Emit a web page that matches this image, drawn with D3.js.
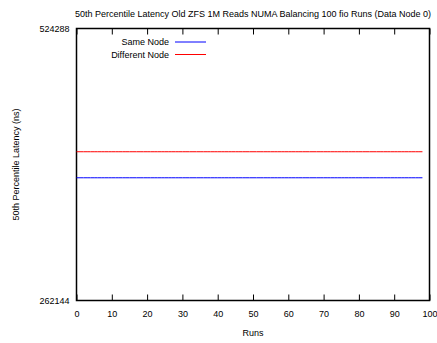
<!DOCTYPE html>
<html>
<head>
<meta charset="utf-8">
<script src="https://cdn.jsdelivr.net/npm/d3@7"></script>
<style>
  html, body { margin: 0; padding: 0; background: #fff; }
  svg { display: block; font-family: "Liberation Sans", Arial, Helvetica, sans-serif; }
</style>
</head>
<body>
<svg id="chart" width="437" height="343"></svg>
<script>
// Chart text
const title = "50th Percentile Latency Old ZFS 1M Reads NUMA Balancing 100 fio Runs (Data Node 0)";
const xLabel = "Runs";
const yLabel = "50th Percentile Latency (ns)";

// Axis domains and ticks
const xDomain = [0, 100];
const xTicks = [0, 10, 20, 30, 40, 50, 60, 70, 80, 90, 100];
const yDomain = [262144, 524288];
const yTicks = [262144, 524288];

// Run indices and per-run median latency (ns) for each series
const runs = [
  0, 1, 2, 3, 4, 5, 6, 7, 8, 9,
  10, 11, 12, 13, 14, 15, 16, 17, 18, 19,
  20, 21, 22, 23, 24, 25, 26, 27, 28, 29,
  30, 31, 32, 33, 34, 35, 36, 37, 38, 39,
  40, 41, 42, 43, 44, 45, 46, 47, 48, 49,
  50, 51, 52, 53, 54, 55, 56, 57, 58, 59,
  60, 61, 62, 63, 64, 65, 66, 67, 68, 69,
  70, 71, 72, 73, 74, 75, 76, 77, 78, 79,
  80, 81, 82, 83, 84, 85, 86, 87, 88, 89,
  90, 91, 92, 93, 94, 95, 96, 97, 98
];
const sameNode = [
  358400, 358400, 358400, 358400, 358400, 358400, 358400, 358400, 358400, 358400,
  358400, 358400, 358400, 358400, 358400, 358400, 358400, 358400, 358400, 358400,
  358400, 358400, 358400, 358400, 358400, 358400, 358400, 358400, 358400, 358400,
  358400, 358400, 358400, 358400, 358400, 358400, 358400, 358400, 358400, 358400,
  358400, 358400, 358400, 358400, 358400, 358400, 358400, 358400, 358400, 358400,
  358400, 358400, 358400, 358400, 358400, 358400, 358400, 358400, 358400, 358400,
  358400, 358400, 358400, 358400, 358400, 358400, 358400, 358400, 358400, 358400,
  358400, 358400, 358400, 358400, 358400, 358400, 358400, 358400, 358400, 358400,
  358400, 358400, 358400, 358400, 358400, 358400, 358400, 358400, 358400, 358400,
  358400, 358400, 358400, 358400, 358400, 358400, 358400, 358400, 358400
];
const differentNode = [
  382976, 382976, 382976, 382976, 382976, 382976, 382976, 382976, 382976, 382976,
  382976, 382976, 382976, 382976, 382976, 382976, 382976, 382976, 382976, 382976,
  382976, 382976, 382976, 382976, 382976, 382976, 382976, 382976, 382976, 382976,
  382976, 382976, 382976, 382976, 382976, 382976, 382976, 382976, 382976, 382976,
  382976, 382976, 382976, 382976, 382976, 382976, 382976, 382976, 382976, 382976,
  382976, 382976, 382976, 382976, 382976, 382976, 382976, 382976, 382976, 382976,
  382976, 382976, 382976, 382976, 382976, 382976, 382976, 382976, 382976, 382976,
  382976, 382976, 382976, 382976, 382976, 382976, 382976, 382976, 382976, 382976,
  382976, 382976, 382976, 382976, 382976, 382976, 382976, 382976, 382976, 382976,
  382976, 382976, 382976, 382976, 382976, 382976, 382976, 382976, 382976
];
const seriesNames = ["Same Node", "Different Node"];
const seriesColors = ["#0000ff", "#ff0000"];

const svg = d3.select("#chart");
const plotLeft = 76.5, plotRight = 429.5, plotTop = 28.5, plotBottom = 300.5;

const x = d3.scaleLinear().domain(xDomain).range([plotLeft, plotRight]);
const y = d3.scaleLog().base(2).domain(yDomain).range([plotBottom, plotTop]);

const fontSize = 9;
const tickLen = 6;

// Title
svg.append("text")
  .attr("x", (plotLeft + plotRight) / 2).attr("y", 17)
  .attr("text-anchor", "middle")
  .attr("font-size", fontSize)
  .text(title);

// Bottom axis (ticks pointing inward)
const xAxis = d3.axisBottom(x).tickValues(xTicks).tickSize(-tickLen).tickPadding(tickLen + 4).tickFormat(d3.format("d"));
const gx = svg.append("g").attr("transform", `translate(0,${plotBottom})`).call(xAxis);
gx.select(".domain").remove();
gx.selectAll("text").attr("font-size", fontSize).attr("font-family", null).attr("fill", "#000");
gx.selectAll("line").attr("stroke", "#000");

// Mirrored ticks on the top edge
const xTop = d3.axisTop(x).tickValues(xTicks).tickSize(-tickLen).tickFormat("");
const gxt = svg.append("g").attr("transform", `translate(0,${plotTop})`).call(xTop);
gxt.select(".domain").remove();
gxt.selectAll("line").attr("stroke", "#000");

// Left axis
const yAxis = d3.axisLeft(y).tickValues(yTicks).tickSize(0).tickPadding(7).tickFormat(d3.format("d"));
const gy = svg.append("g").attr("transform", `translate(${plotLeft},0)`).call(yAxis);
gy.select(".domain").remove();
gy.selectAll("text").attr("font-size", fontSize).attr("font-family", null).attr("fill", "#000");

// Plot frame
svg.append("rect")
  .attr("x", plotLeft).attr("y", plotTop)
  .attr("width", plotRight - plotLeft).attr("height", plotBottom - plotTop)
  .attr("fill", "none").attr("stroke", "#000").attr("stroke-width", 1.5);

// Axis labels
svg.append("text")
  .attr("x", (plotLeft + plotRight) / 2).attr("y", 336)
  .attr("text-anchor", "middle")
  .attr("font-size", fontSize)
  .text(xLabel);

svg.append("text")
  .attr("transform", `translate(19,${(plotTop + plotBottom) / 2}) rotate(-90)`)
  .attr("text-anchor", "middle")
  .attr("font-size", fontSize)
  .text(yLabel);

// Series lines
const line = d3.line().x(d => x(d[0])).y(d => y(d[1]));
const seriesData = [sameNode, differentNode];
seriesData.forEach((vals, i) => {
  svg.append("path")
    .datum(runs.map((r, k) => [r, vals[k]]))
    .attr("fill", "none")
    .attr("stroke", seriesColors[i])
    .attr("stroke-width", 1)
    .attr("d", line);
});

// Legend
const legend = svg.append("g");
seriesNames.forEach((name, i) => {
  const ly = 42 + i * 12.5;
  legend.append("text")
    .attr("x", 169).attr("y", ly + 3.2)
    .attr("text-anchor", "end")
    .attr("font-size", fontSize)
    .text(name);
  legend.append("line")
    .attr("x1", 175).attr("x2", 206)
    .attr("y1", ly).attr("y2", ly)
    .attr("stroke", seriesColors[i])
    .attr("stroke-width", 1);
});
</script>
</body>
</html>
